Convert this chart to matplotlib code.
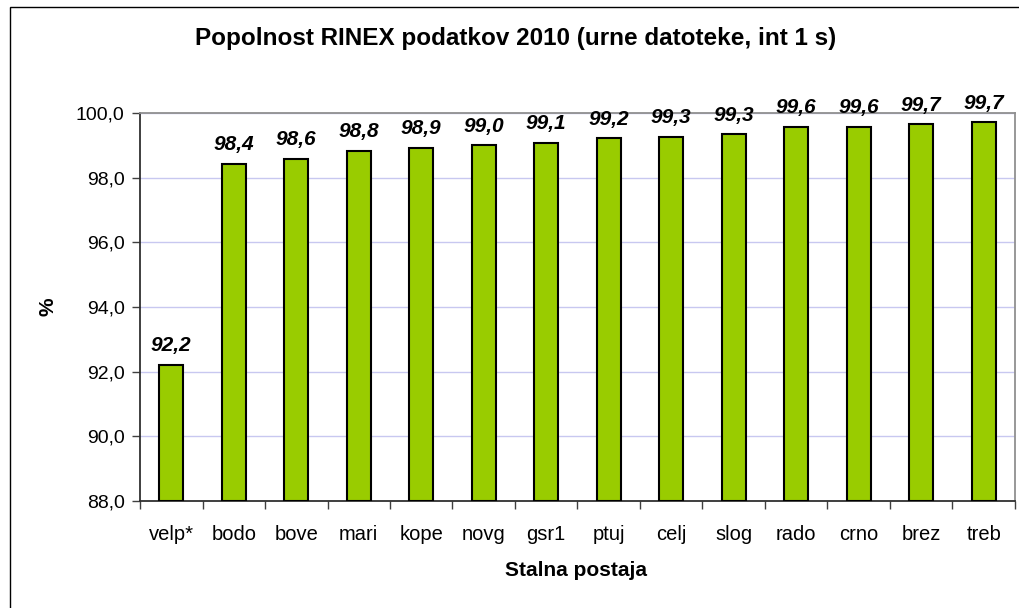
import matplotlib
matplotlib.use('Agg')
import matplotlib.pyplot as plt
from matplotlib.patches import Rectangle
import numpy as np

plt.rcParams['font.family'] = ['Liberation Sans', 'DejaVu Sans']

stations = ["velp*", "bodo", "bove", "mari", "kope", "novg", "gsr1",
            "ptuj", "celj", "slog", "rado", "crno", "brez", "treb"]
completeness = [92.2, 98.42, 98.58, 98.82, 98.93, 99.0, 99.07,
                99.22, 99.26, 99.34, 99.58, 99.58, 99.65, 99.71]
y_ticks = [88.0, 90.0, 92.0, 94.0, 96.0, 98.0, 100.0]

fig = plt.figure(figsize=(10.2, 6.08), dpi=100)
ax = fig.add_axes([140 / 1020, 107 / 608, 875 / 1020, 388 / 608])

# outer chart frame (only left/top edges visible in the crop)
fig.patches.append(Rectangle((10 / 1020, -0.1), 1.2, 0.1 + (608 - 7) / 608,
                             transform=fig.transFigure, fill=False,
                             edgecolor='black', linewidth=1.0))

x = np.arange(len(stations))
ax.bar(x, [v - 88.0 for v in completeness], bottom=88.0, width=0.39,
       color='#99cc00', edgecolor='black', linewidth=1.5, zorder=3)

for xi, v in zip(x, completeness):
    ax.text(xi, v + 0.3, f"{v:.1f}".replace('.', ','), ha='center', va='bottom',
            fontsize=15, fontweight='bold', fontstyle='italic', zorder=4)

ax.set_ylim(88.0, 100.0)
ax.set_xlim(-0.5, len(stations) - 0.5)
ax.set_yticks(y_ticks)
ax.set_yticklabels([f"{t:.1f}".replace('.', ',') for t in y_ticks], fontsize=14)
ax.set_xticks(x)
ax.set_xticklabels(stations, fontsize=14.5)
ax.set_xticks(np.arange(len(stations) + 1) - 0.5, minor=True)
ax.tick_params(axis='x', which='major', length=0, pad=17)
ax.tick_params(axis='x', which='minor', length=6, width=1, color='#404040')
ax.tick_params(axis='y', length=6, width=1, color='#404040', pad=5)

ax.grid(axis='y', color='#c8c8f0', linewidth=1, zorder=0)
ax.set_axisbelow(True)

for side in ('left', 'bottom'):
    ax.spines[side].set_color('#303030')
    ax.spines[side].set_linewidth(1.3)
for side in ('top', 'right'):
    ax.spines[side].set_color('#909090')
    ax.spines[side].set_linewidth(1.3)

fig.text(516 / 1020, 1 - 38 / 608,
         "Popolnost RINEX podatkov 2010 (urne datoteke, int 1 s)",
         ha='center', va='center', fontsize=17.5, fontweight='bold')
fig.text(576 / 1020, 1 - 570 / 608, "Stalna postaja", ha='center', va='center',
         fontsize=15, fontweight='bold')
fig.text(48 / 1020, 1 - 307 / 608, "%", ha='center', va='center',
         fontsize=15, fontweight='bold', rotation=90)

fig.savefig('out.png', dpi=100)
